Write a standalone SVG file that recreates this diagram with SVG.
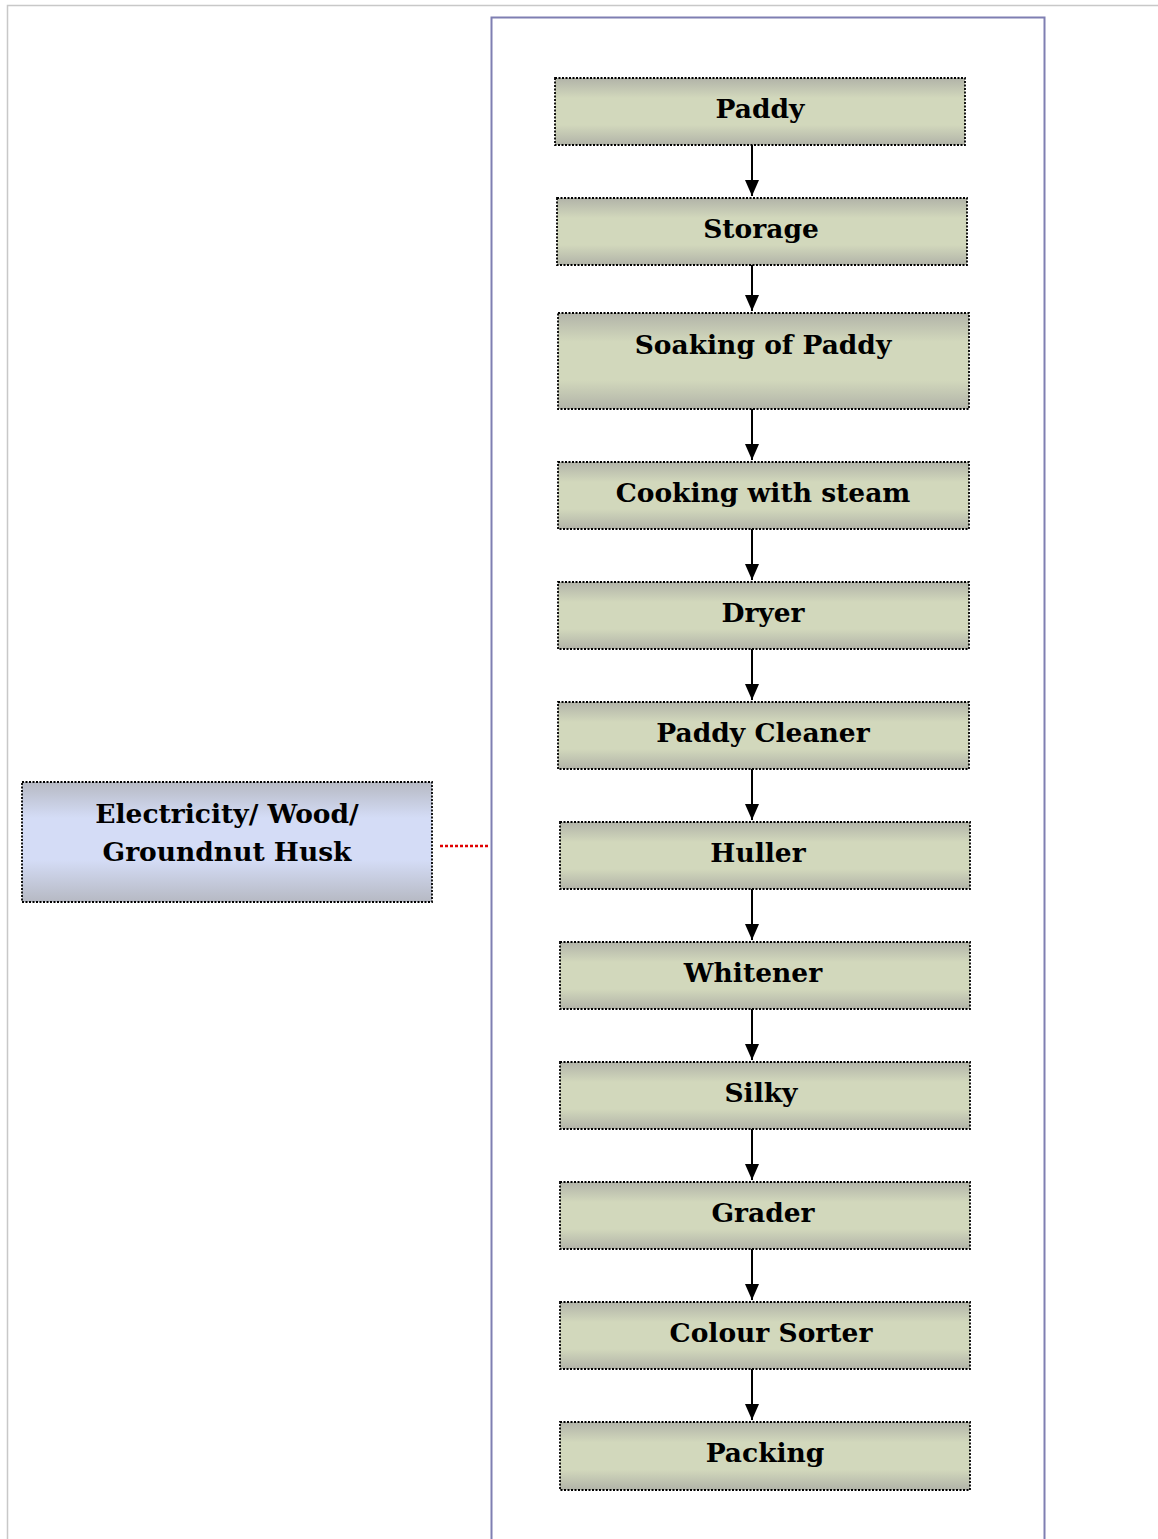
<svg xmlns="http://www.w3.org/2000/svg" width="1158" height="1539" viewBox="0 0 1158 1539">
<defs>
<linearGradient id="gg" x1="0" y1="0" x2="0" y2="1">
<stop offset="0" stop-color="#b1b3a8"/>
<stop offset="0.3" stop-color="#d2d8bc"/>
<stop offset="0.7" stop-color="#d2d8bc"/>
<stop offset="1" stop-color="#b1b3a8"/>
</linearGradient>
<linearGradient id="bg" x1="0" y1="0" x2="0" y2="1">
<stop offset="0" stop-color="#b6b9c3"/>
<stop offset="0.3" stop-color="#d4dcf6"/>
<stop offset="0.65" stop-color="#d4dcf6"/>
<stop offset="1" stop-color="#b6b9c3"/>
</linearGradient>
<marker id="ah" markerWidth="16" markerHeight="14" refX="16" refY="7" orient="auto" markerUnits="userSpaceOnUse" viewBox="0 0 16 14">
<path d="M0,0 L16,7 L0,14 Z" fill="#000"/>
</marker>
</defs>
<style>
.box{fill:url(#gg);stroke:#000;stroke-width:1.8;stroke-dasharray:2 1.5}
.bbox{fill:url(#bg);stroke:#000;stroke-width:1.8;stroke-dasharray:2 1.5}
.t{font-family:"DejaVu Serif","Liberation Serif",serif;font-weight:bold;font-size:26.5px;fill:#000;text-anchor:middle}
.c{stroke:#000;stroke-width:2;fill:none}
</style>
<rect width="1158" height="1539" fill="#fff"/>
<path d="M7.5,1539 V5.5 H1158" fill="none" stroke="#c8c8c8" stroke-width="1.5"/>
<rect x="491.5" y="17.5" width="553" height="1540" fill="none" stroke="#7f7fb2" stroke-width="2"/>

<g id="n1"><rect class="box" x="555" y="78" width="410" height="67"/><text class="t" x="760" y="118">Paddy</text></g>
<g id="n2"><rect class="box" x="557" y="198" width="410" height="67"/><text class="t" x="761" y="238">Storage</text></g>
<g id="n3"><rect class="box" x="558" y="313" width="411" height="96"/><text class="t" x="763" y="354">Soaking of Paddy</text></g>
<g id="n4"><rect class="box" x="558" y="462" width="411" height="67"/><text class="t" x="763" y="502">Cooking with steam</text></g>
<g id="n5"><rect class="box" x="558" y="582" width="411" height="67"/><text class="t" x="763" y="622">Dryer</text></g>
<g id="n6"><rect class="box" x="558" y="702" width="411" height="67"/><text class="t" x="763" y="742">Paddy Cleaner</text></g>
<g id="n7"><rect class="box" x="560" y="822" width="410" height="67"/><text class="t" x="758" y="862">Huller</text></g>
<g id="n8"><rect class="box" x="560" y="942" width="410" height="67"/><text class="t" x="753" y="982">Whitener</text></g>
<g id="n9"><rect class="box" x="560" y="1062" width="410" height="67"/><text class="t" x="761" y="1102">Silky</text></g>
<g id="n10"><rect class="box" x="560" y="1182" width="410" height="67"/><text class="t" x="763" y="1222">Grader</text></g>
<g id="n11"><rect class="box" x="560" y="1302" width="410" height="67"/><text class="t" x="771" y="1342">Colour Sorter</text></g>
<g id="n12"><rect class="box" x="560" y="1422" width="410" height="68"/><text class="t" x="765" y="1462">Packing</text></g>
<g id="n13"><rect class="bbox" x="22" y="782" width="410" height="120"/><text class="t" x="227" y="823">Electricity/ Wood/</text><text class="t" x="227" y="861">Groundnut Husk</text></g>

<g id="connectors">
<line class="c" x1="752" y1="145" x2="752" y2="196" marker-end="url(#ah)"/>
<line class="c" x1="752" y1="265" x2="752" y2="311" marker-end="url(#ah)"/>
<line class="c" x1="752" y1="409" x2="752" y2="460" marker-end="url(#ah)"/>
<line class="c" x1="752" y1="529" x2="752" y2="580" marker-end="url(#ah)"/>
<line class="c" x1="752" y1="649" x2="752" y2="700" marker-end="url(#ah)"/>
<line class="c" x1="752" y1="769" x2="752" y2="820" marker-end="url(#ah)"/>
<line class="c" x1="752" y1="889" x2="752" y2="940" marker-end="url(#ah)"/>
<line class="c" x1="752" y1="1009" x2="752" y2="1060" marker-end="url(#ah)"/>
<line class="c" x1="752" y1="1129" x2="752" y2="1180" marker-end="url(#ah)"/>
<line class="c" x1="752" y1="1249" x2="752" y2="1300" marker-end="url(#ah)"/>
<line class="c" x1="752" y1="1369" x2="752" y2="1420" marker-end="url(#ah)"/>
<line x1="440" y1="846" x2="488" y2="846" stroke="#e00000" stroke-width="2.5" stroke-dasharray="3 2"/>
</g>
</svg>
